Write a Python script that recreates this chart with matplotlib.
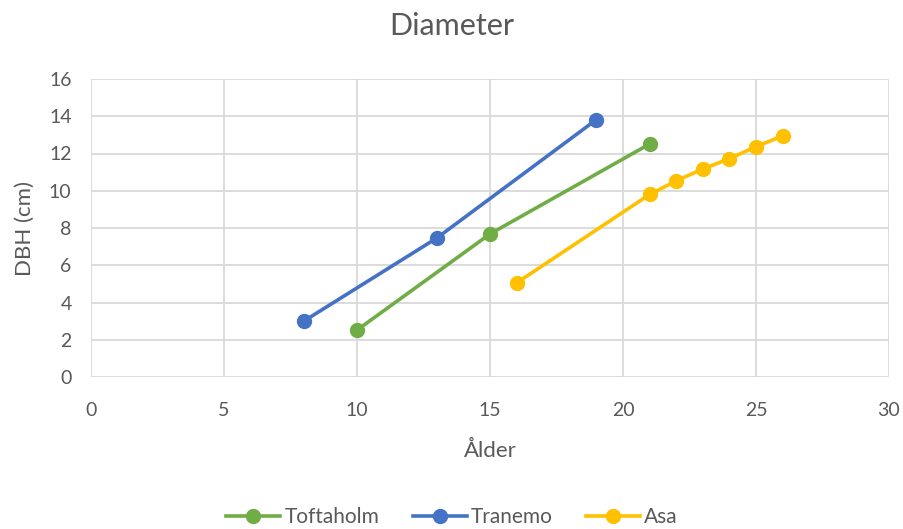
import matplotlib
matplotlib.use("Agg")
import matplotlib.pyplot as plt

toft_x = [10, 15, 21]
toft_y = [2.52, 7.68, 12.51]
tran_x = [8, 13, 19]
tran_y = [3.0, 7.46, 13.82]
asa_x = [16, 21, 22, 23, 24, 25, 26]
asa_y = [5.05, 9.8, 10.53, 11.17, 11.72, 12.37, 12.94]

x_ticks = [0, 5, 10, 15, 20, 25, 30]
y_ticks = [0, 2, 4, 6, 8, 10, 12, 14, 16]

plt.rcParams['font.family'] = ['Lato', 'DejaVu Sans']
fig = plt.figure(figsize=(9.04, 5.29), dpi=100)
ax = fig.add_axes([91/904, 1-377/529, (889-91)/904, (377-79)/529])

txt = '#595959'
ax.plot(toft_x, toft_y, color='#70AD47', lw=2.6, marker='o', ms=10, label='Toftaholm', zorder=3)
ax.plot(tran_x, tran_y, color='#4472C4', lw=2.6, marker='o', ms=10, label='Tranemo', zorder=3)
ax.plot(asa_x, asa_y, color='#FFC000', lw=2.6, marker='o', ms=10, label='Asa', zorder=3)

ax.set_xlim(0, 30)
ax.set_ylim(0, 16)
ax.set_xticks(x_ticks)
ax.set_yticks(y_ticks)
ax.grid(True, color='#D9D9D9', lw=1.3)
ax.set_axisbelow(True)
for s in ax.spines.values():
    s.set_visible(False)
ax.tick_params(axis='x', length=0, labelsize=14, colors=txt, pad=18)
ax.tick_params(axis='y', length=0, labelsize=14, colors=txt, pad=14)
ax.set_xlabel('Ålder', fontsize=16, color=txt, labelpad=16)
ax.set_ylabel('DBH (cm)', fontsize=16, color=txt, labelpad=10)
fig.text(0.5, 1-26/529, 'Diameter', ha='center', va='center', fontsize=22, color=txt)
leg = fig.legend(loc='center', bbox_to_anchor=(0.5, 1-517/529), ncol=3, frameon=False,
                 fontsize=15, handlelength=2.6, columnspacing=1.6, handletextpad=0.2)
for t in leg.get_texts():
    t.set_color(txt)
fig.savefig('out.png', dpi=100)
